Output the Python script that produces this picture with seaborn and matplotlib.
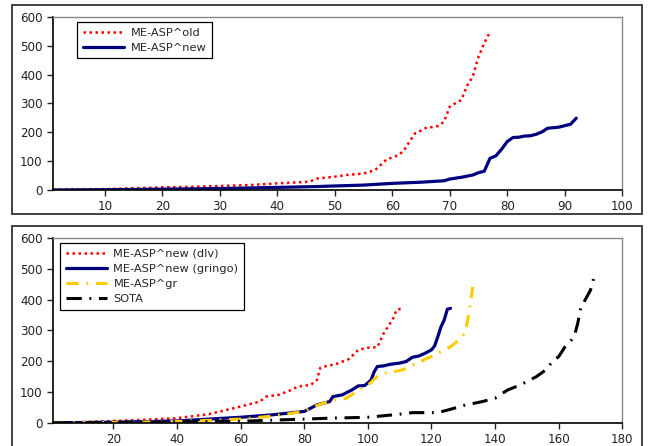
import matplotlib
matplotlib.use("Agg")
import matplotlib.pyplot as plt
import matplotlib.patches as patches
import seaborn as sns

# top panel: ME-ASP old vs new
old_x = [1, 5, 10, 15, 20, 25, 30, 35, 40, 45, 46, 47, 50, 52, 55, 57, 58, 59, 60, 61,
         62, 63, 64, 65, 66, 67, 68, 69, 70, 71, 72, 73, 74, 75, 76, 77]
old_y = [1, 2, 3, 6, 9, 11, 14, 17, 23, 28, 32, 40, 46, 52, 57, 69, 87, 106, 113, 120,
         136, 168, 197, 206, 217, 218, 222, 237, 289, 301, 312, 361, 393, 462, 509, 549]
new_x = [1, 10, 20, 30, 40, 47, 50, 55, 60, 65, 69, 70, 72, 74, 75, 76, 77, 78, 79, 80,
         81, 82, 83, 84, 85, 86, 87, 88, 89, 90, 91, 92]
new_y = [0, 1, 3, 5, 9, 12, 14, 17, 23, 27, 32, 38, 44, 52, 60, 65, 110, 118, 141, 168,
         182, 183, 187, 188, 193, 201, 214, 216, 218, 223, 228, 249]

# bottom panel
dlv_x = [1, 10, 20, 30, 40, 50, 60, 66, 68, 72, 76, 78, 82, 84, 85, 86, 90, 94, 97, 100,
         103, 104, 105, 106, 107, 108, 109, 111]
dlv_y = [0, 2, 6, 10, 15, 28, 53, 69, 85, 91, 107, 118, 123, 139, 178, 182, 191, 207, 237, 244,
         246, 269, 291, 307, 323, 340, 367, 372]
gringo_x = [1, 20, 40, 60, 70, 80, 84, 86, 88, 89, 92, 95, 97, 99, 101, 102, 103, 105, 107, 110,
            112, 114, 116, 118, 120, 121, 122, 123, 124, 125, 126]
gringo_y = [0, 2, 6, 18, 26, 37, 58, 64, 69, 85, 91, 107, 120, 121, 139, 166, 183, 185, 190, 194,
            199, 213, 217, 226, 237, 250, 280, 312, 334, 369, 372]
gr_x = [1, 20, 40, 60, 70, 80, 82, 84, 86, 90, 93, 96, 98, 100, 102, 103, 105, 108, 111, 114,
        116, 118, 120, 122, 124, 126, 128, 130, 131, 132, 133]
gr_y = [0, 1, 4, 12, 22, 37, 49, 56, 64, 75, 79, 98, 112, 121, 142, 150, 161, 166, 172, 188,
        194, 207, 215, 226, 237, 247, 264, 285, 312, 372, 442]
sota_x = [1, 20, 40, 60, 80, 88, 100, 110, 114, 122, 126, 130, 136, 140, 144, 148, 150, 153, 156, 158,
          160, 162, 164, 165, 166, 167, 168, 170, 171]
sota_y = [0, 1, 3, 5, 12, 15, 18, 28, 33, 33, 44, 56, 69, 80, 107, 123, 134, 150, 172, 199,
          215, 247, 269, 285, 323, 377, 393, 431, 469]

yticks = [0, 100, 200, 300, 400, 500, 600]
top_xticks = [10, 20, 30, 40, 50, 60, 70, 80, 90, 100]
bot_xticks = [20, 40, 60, 80, 100, 120, 140, 160, 180]

sns.set_style("ticks")
plt.rcParams['font.family'] = ['DejaVu Sans']

fig = plt.figure(figsize=(6.55, 4.46), dpi=100)

# panel frames
fig.patches.append(patches.Rectangle((0.018, 0.520), 0.962, 0.469, transform=fig.transFigure,
                                     fill=False, edgecolor='#333333', linewidth=1.3))
fig.patches.append(patches.Rectangle((0.018, -0.05), 0.962, 0.543, transform=fig.transFigure,
                                     fill=False, edgecolor='#333333', linewidth=1.3))

ax1 = fig.add_axes([0.081, 0.574, 0.869, 0.388])
ax2 = fig.add_axes([0.081, 0.052, 0.869, 0.414])

dot = (0, (1, 1.4))

sns.lineplot(x=old_x, y=old_y, ax=ax1, color='red', linewidth=1.8, label='ME-ASP^old')
ax1.lines[-1].set_linestyle(dot)
sns.lineplot(x=new_x, y=new_y, ax=ax1, color='#00007f', linewidth=2.3, label='ME-ASP^new')

sns.lineplot(x=dlv_x, y=dlv_y, ax=ax2, color='red', linewidth=1.8, label='ME-ASP^new (dlv)')
ax2.lines[-1].set_linestyle(dot)
sns.lineplot(x=gringo_x, y=gringo_y, ax=ax2, color='#00007f', linewidth=2.3, label='ME-ASP^new (gringo)')
sns.lineplot(x=gr_x, y=gr_y, ax=ax2, color='#ffcc00', linewidth=2.2, label='ME-ASP^gr')
ax2.lines[-1].set_linestyle((0, (4, 2.5, 0.6, 2.5)))
sns.lineplot(x=sota_x, y=sota_y, ax=ax2, color='black', linewidth=2.2, label='SOTA')
ax2.lines[-1].set_linestyle((0, (5, 2.5, 0.6, 2.5)))

for ax, xmax, xt in [(ax1, 100, top_xticks), (ax2, 180, bot_xticks)]:
    ax.set_xlim(1, xmax)
    ax.set_ylim(0, 600)
    ax.set_xticks(xt)
    ax.set_yticks(yticks)
    ax.tick_params(direction='out', length=4, width=1, labelsize=8.6, colors='#222222')
    for s in ['left', 'bottom']:
        ax.spines[s].set_color('black')
        ax.spines[s].set_linewidth(1.2)
    for s in ['top', 'right']:
        ax.spines[s].set_visible(True)
        ax.spines[s].set_color('#888888')
        ax.spines[s].set_linewidth(1.0)
    ax.set_xlabel('')
    ax.set_ylabel('')

leg1 = ax1.legend(loc='upper left', bbox_to_anchor=(0.042, 0.971), fancybox=False,
                  edgecolor='black', framealpha=1, fontsize=8.2, handlelength=3.6,
                  handletextpad=0.6, borderpad=0.5, labelspacing=0.45, borderaxespad=0)
leg1.get_frame().set_linewidth(0.9)
leg2 = ax2.legend(loc='upper left', bbox_to_anchor=(0.012, 0.973), fancybox=False,
                  edgecolor='black', framealpha=1, fontsize=8.2, handlelength=3.6,
                  handletextpad=0.6, borderpad=0.5, labelspacing=0.45, borderaxespad=0)
leg2.get_frame().set_linewidth(0.9)

fig.savefig('out.png', dpi=100)
